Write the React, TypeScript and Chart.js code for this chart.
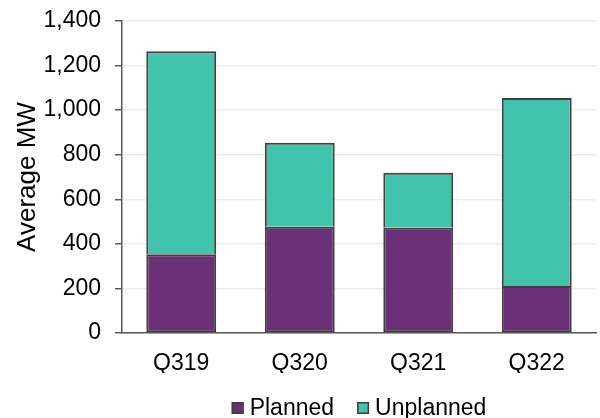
import React, { useEffect, useRef } from "react";
import { Chart, registerables } from "chart.js";

Chart.register(...registerables);

const quarters = ["Q319", "Q320", "Q321", "Q322"];
const planned = [353, 477, 472, 211];
const unplanned = [911, 377, 247, 843];
const yTicks = [0, 200, 400, 600, 800, 1000, 1200, 1400];

const PURPLE = "#6B3077";
const TEAL = "#41C3AC";
const EDGE = "#404040";
const AXIS = "#595959";
const FONT = "Arial, 'Liberation Sans', sans-serif";

// Bottom legend: small bordered squares followed by the series name,
// centred under the plot area.
const bottomLegend = {
  id: "bottomLegend",
  afterDraw(chart: any) {
    const { ctx, chartArea } = chart;
    const box = 12;
    const textGap = 6;
    const itemGap = 23;
    const baselineY = 415;
    ctx.save();
    ctx.font = `23px ${FONT}`;
    const items = chart.data.datasets.map((ds: any) => ({
      label: ds.label as string,
      color: ds.backgroundColor as string,
      width: ctx.measureText(ds.label).width,
    }));
    const total =
      items.reduce((s: number, it: any) => s + box + textGap + it.width, 0) +
      itemGap * (items.length - 1);
    let x = (chartArea.left + chartArea.right) / 2 - total / 2;
    items.forEach((it: any) => {
      ctx.fillStyle = it.color;
      ctx.fillRect(x, baselineY - 13, box, box);
      ctx.strokeStyle = EDGE;
      ctx.lineWidth = 1.5;
      ctx.strokeRect(x + 0.75, baselineY - 12.25, box - 1.5, box - 1.5);
      ctx.fillStyle = "#000";
      ctx.textBaseline = "alphabetic";
      ctx.textAlign = "left";
      ctx.fillText(it.label, x + box + textGap, baselineY);
      x += box + textGap + it.width + itemGap;
    });
    ctx.restore();
  },
};

export default function App() {
  const canvasRef = useRef<HTMLCanvasElement | null>(null);

  useEffect(() => {
    document.body.style.margin = "0";
    const canvas = canvasRef.current;
    if (!canvas) return;
    const chart = new Chart(canvas, {
      type: "bar",
      data: {
        labels: quarters,
        datasets: [
          {
            label: "Planned",
            data: planned,
            backgroundColor: PURPLE,
            borderColor: EDGE,
            borderWidth: 2,
            borderSkipped: false,
            categoryPercentage: 1,
            barPercentage: 0.59,
          },
          {
            label: "Unplanned",
            data: unplanned,
            backgroundColor: TEAL,
            borderColor: EDGE,
            borderWidth: { top: 2, left: 2, right: 2, bottom: 0 },
            borderSkipped: false,
            categoryPercentage: 1,
            barPercentage: 0.59,
          },
        ],
      },
      options: {
        animation: false,
        responsive: true,
        maintainAspectRatio: false,
        layout: { padding: { top: 21, right: 4, bottom: 45, left: 0 } },
        plugins: {
          tooltip: { enabled: false },
          legend: { display: false },
        },
        scales: {
          x: {
            stacked: true,
            afterFit: (scale: any) => {
              scale.height = 40;
            },
            grid: { display: false },
            border: { display: true, color: AXIS, width: 1.5 },
            ticks: {
              color: "#000",
              font: { family: FONT, size: 23 },
              padding: 9,
            },
          },
          y: {
            stacked: true,
            min: 0,
            max: 1400,
            afterBuildTicks: (scale: any) => {
              scale.ticks = yTicks.map((v) => ({ value: v }));
            },
            afterFit: (scale: any) => {
              scale.width = 122;
              scale.paddingTop = 0;
              scale.paddingBottom = 0;
            },
            grid: {
              color: "#EDEDED",
              lineWidth: 1.5,
              tickColor: AXIS,
              tickLength: 7,
            },
            border: { display: true, color: AXIS, width: 1.5 },
            ticks: {
              color: "#000",
              font: { family: FONT, size: 23 },
              padding: 14,
              callback: (v: any) => Number(v).toLocaleString("en-US"),
            },
            title: {
              display: true,
              text: "Average MW",
              color: "#000",
              font: { family: FONT, size: 26 },
              padding: { top: 12, bottom: 0 },
            },
          },
        },
      },
      plugins: [bottomLegend],
    });
    return () => chart.destroy();
  }, []);

  return (
    <div style={{ position: "fixed", left: 0, top: 0, width: 600, height: 418, background: "#fff" }}>
      <canvas ref={canvasRef} />
    </div>
  );
}
